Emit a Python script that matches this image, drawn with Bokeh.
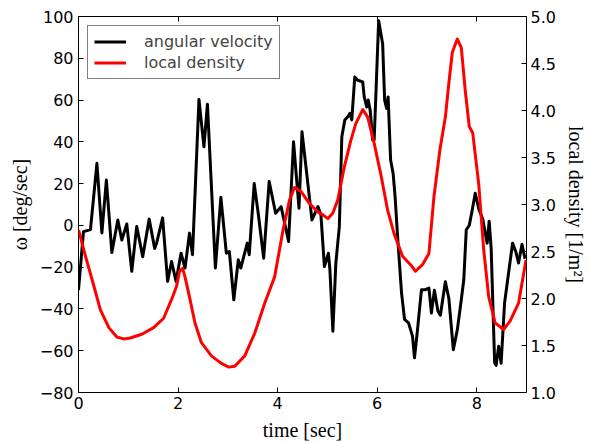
from bokeh.plotting import figure
from bokeh.models import (LinearAxis, Range1d, FixedTicker, CustomJSTickFormatter,
                          Legend, LegendItem)
from bokeh.embed import file_html
from bokeh.resources import INLINE

# angular velocity [deg/sec]
t_omega = [0, 0.1, 0.24, 0.37, 0.47, 0.56, 0.67, 0.79, 0.87, 0.97, 1.07, 1.17, 1.29, 1.42,
           1.53, 1.57, 1.69, 1.79, 1.87, 1.96, 2.06, 2.14, 2.23, 2.29, 2.42, 2.52, 2.59,
           2.75, 2.86, 2.97, 3.03, 3.12, 3.21, 3.26, 3.39, 3.43, 3.53, 3.61, 3.72, 3.83,
           3.96, 4.07, 4.22, 4.32, 4.43, 4.49, 4.69, 4.81, 4.87, 4.94, 5.02, 5.05, 5.11,
           5.17, 5.24, 5.29, 5.35, 5.41, 5.45, 5.49, 5.55, 5.61, 5.71, 5.74, 5.79, 5.82,
           5.86, 5.91, 5.94, 6.03, 6.11, 6.15, 6.19, 6.22, 6.27, 6.32, 6.36, 6.41, 6.49,
           6.55, 6.63, 6.71, 6.75, 6.81, 6.89, 6.97, 7.04, 7.09, 7.15, 7.22, 7.27, 7.37,
           7.44, 7.53, 7.61, 7.69, 7.74, 7.79, 7.85, 7.91, 7.97, 8.04, 8.12, 8.21, 8.25,
           8.29, 8.36, 8.39, 8.44, 8.49, 8.56, 8.64, 8.72, 8.79, 8.84, 8.91, 8.97]
omega = [-31, -3, -2, 29.7, -3.6, 21.7, -13, 2.6, -7, 0.7, -22, -0.5, -15, 3,
         -11, -8.4, 3.6, -26.8, -17.3, -26.8, -13.3, -20.4, -3.7, -14, 60.3, 37.6, 58,
         -20.4, 13.5, -13.3, -12.5, -35.6, -16.5, -20.4, -8.5, -14, 20, 5.8, -15.7, 21,
         5.8, 9, -7.7, 40, 8.2, 44.8, 2.6, 9, 5, -19.7, -13.3, -21, -50.7,
         -18, -0.6, 42.4, 50.4, 52, 53.6, 50.5, 71, 69.5, 68.7, 61.5, 56.7, 60,
         55, 40.8, 41, 98, 87, 60, 56, 61.5, 31.3, 25, 13.8, -5.3, -32.4,
         -45, -46.7, -53, -63.4, -50, -30.8, -30.8, -30, -42, -31, -41, -43, -27,
         -35, -59.5, -50, -35.6, -26, -2.1, 0, 7.4, 15.4, 8, 3, -8.5, 2,
         -11, -65.8, -67, -57.9, -66, -37, -22.8, -8.5, -13, -18, -9, -16]

# local density [1/m^2]
t_density = [0, 0.14, 0.31, 0.44, 0.61, 0.77, 0.91, 1.04, 1.27, 1.51, 1.71, 1.87, 1.97,
             2.03, 2.09, 2.14, 2.24, 2.34, 2.47, 2.67, 2.87, 3.02, 3.14, 3.34, 3.54, 3.74,
             3.94, 4.11, 4.24, 4.34, 4.47, 4.64, 4.81, 4.91, 5.01, 5.11, 5.21, 5.34, 5.47,
             5.57, 5.71, 5.81, 5.94, 6.07, 6.21, 6.34, 6.51, 6.67, 6.77, 6.91, 7.04, 7.14,
             7.26, 7.37, 7.44, 7.51, 7.61, 7.69, 7.77, 7.85, 7.92, 8.04, 8.14, 8.24, 8.37,
             8.54, 8.67, 8.84, 8.99]
density = [2.73, 2.45, 2.13, 1.88, 1.69, 1.59, 1.57, 1.58, 1.62, 1.69, 1.79, 1.99, 2.13,
           2.29, 2.32, 2.23, 1.99, 1.74, 1.53, 1.39, 1.31, 1.27, 1.28, 1.39, 1.63, 1.95,
           2.23, 2.73, 3.05, 3.18, 3.14, 3.01, 2.92, 2.89, 2.85, 2.91, 3.05, 3.40, 3.68,
           3.86, 4.01, 3.93, 3.65, 3.33, 2.94, 2.69, 2.45, 2.36, 2.29, 2.36, 2.48, 3.08,
           3.58, 3.93, 4.29, 4.62, 4.76, 4.67, 4.21, 3.83, 3.76, 3.22, 2.52, 2.02, 1.74,
           1.67, 1.76, 1.95, 2.41]

x_ticks = [0, 2, 4, 6, 8]
left_ticks = [-80, -60, -40, -20, 0, 20, 40, 60, 80, 100]
right_ticks = [1.0, 1.5, 2.0, 2.5, 3.0, 3.5, 4.0, 4.5, 5.0]

FONT = "DejaVu Sans"
SERIF = "Liberation Serif"
TICK_SIZE = "16px"

p = figure(width=589, height=443, output_backend="svg", toolbar_location=None,
           x_range=Range1d(0, 9), y_range=Range1d(-80, 100),
           min_border_left=78, min_border_right=61, min_border_top=16, min_border_bottom=50,
           x_axis_location=None, y_axis_location=None)
p.extra_y_ranges = {"dens": Range1d(1.0, 5.0)}
p.grid.visible = False
p.outline_line_color = "black"
p.outline_line_width = 1
p.background_fill_color = "white"
p.border_fill_color = "white"


def style(ax):
    ax.axis_line_color = None
    ax.major_tick_in = 5
    ax.major_tick_out = 0
    ax.major_tick_line_color = "black"
    ax.minor_tick_line_color = None
    ax.major_label_text_font = FONT
    ax.major_label_text_font_size = TICK_SIZE
    ax.major_label_text_color = "black"
    ax.axis_label_text_font = SERIF
    ax.axis_label_text_font_style = "normal"
    ax.axis_label_text_font_size = "20px"
    ax.axis_label_text_color = "black"


minus_fmt = CustomJSTickFormatter(code="return String(tick).replace('-', '\u2212');")
one_dec = CustomJSTickFormatter(code="return tick.toFixed(1);")

xb = LinearAxis(ticker=FixedTicker(ticks=x_ticks), formatter=minus_fmt,
                axis_label="time [sec]")
style(xb)
xb.major_label_standoff = 4
xb.axis_label_standoff = 7
p.add_layout(xb, "below")

xt = LinearAxis(ticker=FixedTicker(ticks=x_ticks))
style(xt)
xt.major_label_text_font_size = "0px"
xt.major_label_text_color = None
xt.major_label_standoff = 0
p.add_layout(xt, "above")

yl = LinearAxis(ticker=FixedTicker(ticks=left_ticks), formatter=minus_fmt,
                axis_label="ω [deg/sec]")
style(yl)
yl.major_label_standoff = 5
yl.axis_label_standoff = 6
p.add_layout(yl, "left")

yr = LinearAxis(y_range_name="dens", ticker=FixedTicker(ticks=right_ticks),
                formatter=one_dec, axis_label="local density [1/m²]")
style(yr)
yr.major_label_standoff = 4
yr.axis_label_standoff = 6
p.add_layout(yr, "right")

r1 = p.line(t_omega, omega, line_color="black", line_width=3, line_join="round")
r2 = p.line(t_density, density, line_color="red", line_width=3, line_join="round",
            y_range_name="dens")

legend = Legend(items=[LegendItem(label="angular velocity", renderers=[r1]),
                       LegendItem(label="local density", renderers=[r2])],
                location="top_left")
legend.margin = 9
legend.padding = 6
legend.spacing = 2
legend.glyph_width = 32
legend.glyph_height = 19
legend.label_height = 19
legend.label_standoff = 18
legend.label_text_font = FONT
legend.label_text_font_size = "16px"
legend.border_line_color = "black"
legend.border_line_width = 1
legend.background_fill_color = "white"
legend.background_fill_alpha = 1
p.add_layout(legend, "center")

open("out.html", "w").write(file_html(p, INLINE))
